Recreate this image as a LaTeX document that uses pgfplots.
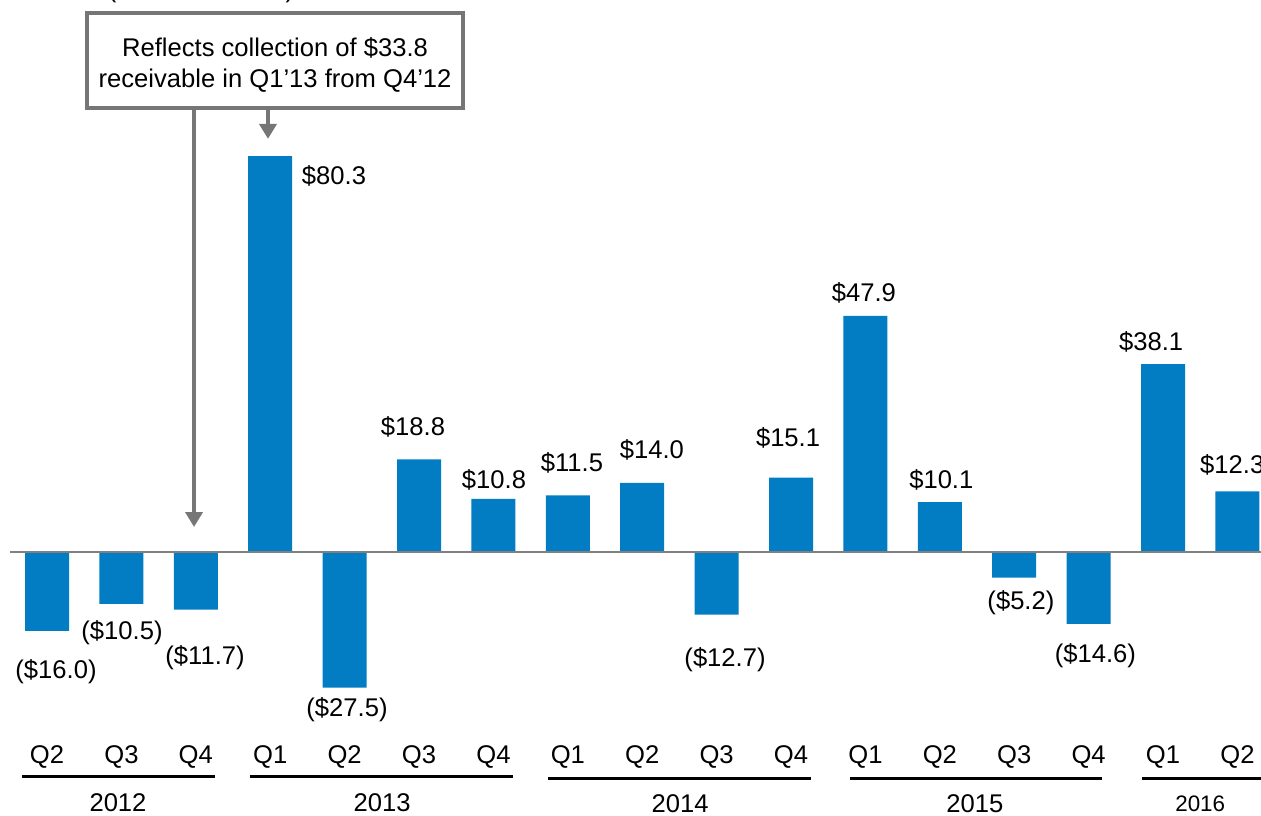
\documentclass[border=0pt]{standalone}
\usepackage{pgfplots}
\pgfplotsset{compat=1.18}
\usetikzlibrary{arrows.meta}
\usepackage{fontspec}
\setmainfont{Liberation Sans}
\definecolor{barblue}{RGB}{2,124,194}
\definecolor{annogray}{RGB}{118,118,118}
\definecolor{zerogray}{RGB}{128,128,128}
\begin{document}
\fontsize{12.8pt}{15pt}\selectfont
\begin{tikzpicture}
\begin{axis}[
  at={(0,0)}, anchor=south west,
  scale only axis, width=630.5pt, height=407.5pt,
  xmin=-0.632, xmax=16.317, ymin=-53.35, ymax=111.97,
  hide axis, clip=false,
  ybar, bar width=22pt,
]
\addplot[fill=barblue, draw=none] coordinates {
(0,-16.0) (1,-10.5) (2,-11.7) (3,80.3) (4,-27.5) (5,18.8) (6,10.8) (7,11.5)
(8,14.0) (9,-12.7) (10,15.1) (11,47.9) (12,10.1) (13,-5.2) (14,-14.6) (15,38.1) (16,12.3)};
\draw[zerogray, line width=1pt] (axis cs:-0.497,0) -- (axis cs:16.4,0);
% value labels
\node at (axis cs:3.857,76.3) {\$80.3};
\node at (axis cs:0.121,-24.3) {(\$16.0)};
\node at (axis cs:1.008,-16.4) {(\$10.5)};
\node at (axis cs:2.124,-21.5) {(\$11.7)};
\node at (axis cs:4.032,-32.0) {(\$27.5)};
\node at (axis cs:4.919,25.4) {\$18.8};
\node at (axis cs:6.008,14.6) {\$10.8};
\node at (axis cs:7.056,18.05) {\$11.5};
\node at (axis cs:8.13,20.7) {\$14.0};
\node at (axis cs:9.113,-21.9) {(\$12.7)};
\node at (axis cs:9.96,23.1) {\$15.1};
\node at (axis cs:10.98,52.5) {\$47.9};
\node at (axis cs:12.02,14.6) {\$10.1};
\node at (axis cs:13.09,-10.3) {(\$5.2)};
\node at (axis cs:14.09,-21.1) {(\$14.6)};
\node at (axis cs:14.84,42.6) {\$38.1};
\node at (axis cs:15.93,17.6) {\$12.3};
% quarter labels
\node at (axis cs:0,-41.6) {Q2};
\node at (axis cs:1,-41.6) {Q3};
\node at (axis cs:2,-41.6) {Q4};
\node at (axis cs:3,-41.6) {Q1};
\node at (axis cs:4,-41.6) {Q2};
\node at (axis cs:5,-41.6) {Q3};
\node at (axis cs:6,-41.6) {Q4};
\node at (axis cs:7,-41.6) {Q1};
\node at (axis cs:8,-41.6) {Q2};
\node at (axis cs:9,-41.6) {Q3};
\node at (axis cs:10,-41.6) {Q4};
\node at (axis cs:11,-41.6) {Q1};
\node at (axis cs:12,-41.6) {Q2};
\node at (axis cs:13,-41.6) {Q3};
\node at (axis cs:14,-41.6) {Q4};
\node at (axis cs:15,-41.6) {Q1};
\node at (axis cs:16,-41.6) {Q2};
% year lines
\draw[black, line width=1.5pt] (axis cs:-0.336,-45.6) -- (axis cs:2.258,-45.6);
\draw[black, line width=1.5pt] (axis cs:2.728,-45.6) -- (axis cs:6.263,-45.6);
\draw[black, line width=1.5pt] (axis cs:6.734,-46.0) -- (axis cs:10.27,-46.0);
\draw[black, line width=1.5pt] (axis cs:10.79,-46.0) -- (axis cs:14.18,-46.0);
\draw[black, line width=1.5pt] (axis cs:14.72,-46.0) -- (axis cs:16.4,-46.0);
\node at (axis cs:0.954,-50.8) {2012};
\node at (axis cs:4.503,-50.8) {2013};
\node at (axis cs:8.508,-51.1) {2014};
\node at (axis cs:12.47,-51.1) {2015};
\node[font=\fontsize{11.2pt}{13pt}\selectfont] at (axis cs:15.50,-51.0) {2016};
% annotation
\node[anchor=base] at (axis cs:2.07,112.4) {(US\$ in millions)};
\draw[annogray, line width=2pt, fill=white] (axis cs:0.538,109.3) rectangle (axis cs:5.591,90.06);
\node at (axis cs:3.065,102.2) {Reflects collection of \$33.8};
\node at (axis cs:3.065,95.7) {receivable in Q1’13 from Q4’12};
\draw[annogray, line width=2pt, -{Triangle[width=8.5pt,length=7.5pt]}] (axis cs:1.976,90.06) -- (axis cs:1.976,5.07);
\draw[annogray, line width=2pt, -{Triangle[width=8.5pt,length=7.5pt]}] (axis cs:2.970,90.06) -- (axis cs:2.970,83.8);
\end{axis}
\pgfresetboundingbox
\path[use as bounding box] (0,0) rectangle (630.5pt,407.5pt);
\end{tikzpicture}
\end{document}
